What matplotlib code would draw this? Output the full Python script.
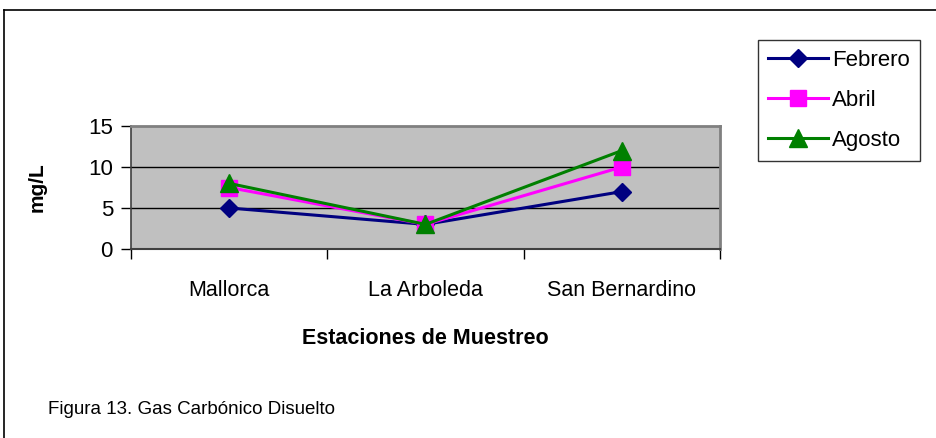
import matplotlib
matplotlib.use("Agg")
import matplotlib.pyplot as plt
from matplotlib.lines import Line2D

plt.rcParams["font.family"] = ["Liberation Sans", "DejaVu Sans"]

stations = ["Mallorca", "La Arboleda", "San Bernardino"]
febrero = [5, 3, 7]
abril = [7.5, 3, 10]
agosto = [8, 3, 12]
yticks = [0, 5, 10, 15]

W, H = 936, 438
fig = plt.figure(figsize=(W / 100, H / 100), dpi=100)

# outer chart frame
fig.add_artist(Line2D([4 / W, 1], [1 - 10 / H, 1 - 10 / H], color="black", lw=1.2))
fig.add_artist(Line2D([4 / W, 4 / W], [0, 1 - 10 / H], color="black", lw=1.2))

x0, x1 = 131, 720
y0, y1 = 126, 249
ax = fig.add_axes([x0 / W, 1 - y1 / H, (x1 - x0) / W, (y1 - y0) / H])
ax.set_facecolor("#C0C0C0")

xs = [0.5, 1.5, 2.5]
ax.plot(xs, febrero, color="#000080", lw=2.2, marker="D", ms=9, label="Febrero", zorder=3)
ax.plot(xs, abril, color="#FF00FF", lw=2.2, marker="s", ms=11, label="Abril", zorder=4)
ax.plot(xs, agosto, color="#008000", lw=2.2, marker="^", ms=13, label="Agosto", zorder=5)

ax.set_xlim(0, 3)
ax.set_ylim(0, 15)
ax.set_yticks(yticks)
ax.set_yticklabels([str(v) for v in yticks], fontsize=16)
ax.set_xticks([0, 1, 2, 3])
ax.set_xticklabels([])
ax.set_xticks(xs, minor=True)
ax.set_xticklabels(stations, minor=True, fontsize=15.5)
ax.tick_params(axis="x", which="minor", length=0, pad=22)
ax.tick_params(axis="x", which="major", length=7, direction="out", width=1)
ax.tick_params(axis="y", length=7, direction="out", width=1, pad=6)

for v in [5, 10]:
    ax.axhline(v, color="black", lw=1, zorder=1)

for side in ["top", "right"]:
    ax.spines[side].set_color("#808080")
    ax.spines[side].set_linewidth(2)
ax.spines["left"].set_color("#404040")
ax.spines["bottom"].set_color("#404040")
ax.spines["left"].set_linewidth(1.2)
ax.spines["bottom"].set_linewidth(1.5)

ax.set_xlabel("Estaciones de Muestreo", fontsize=15.5, fontweight="bold", labelpad=20)
ax.set_ylabel("mg/L", fontsize=15, fontweight="bold", labelpad=30)

leg = fig.legend(loc="upper left", bbox_to_anchor=(758 / W, 1 - 40 / H), fontsize=16,
                 frameon=True, fancybox=False, edgecolor="black", handlelength=2.7,
                 labelspacing=0.85, borderpad=0.45, borderaxespad=0, handletextpad=0.2)
leg.get_frame().set_linewidth(1)

fig.text(48 / W, 1 - 410 / H, "Figura 13. Gas Carbónico Disuelto", fontsize=13.5, va="center", ha="left")

fig.savefig("out.png", dpi=100)
